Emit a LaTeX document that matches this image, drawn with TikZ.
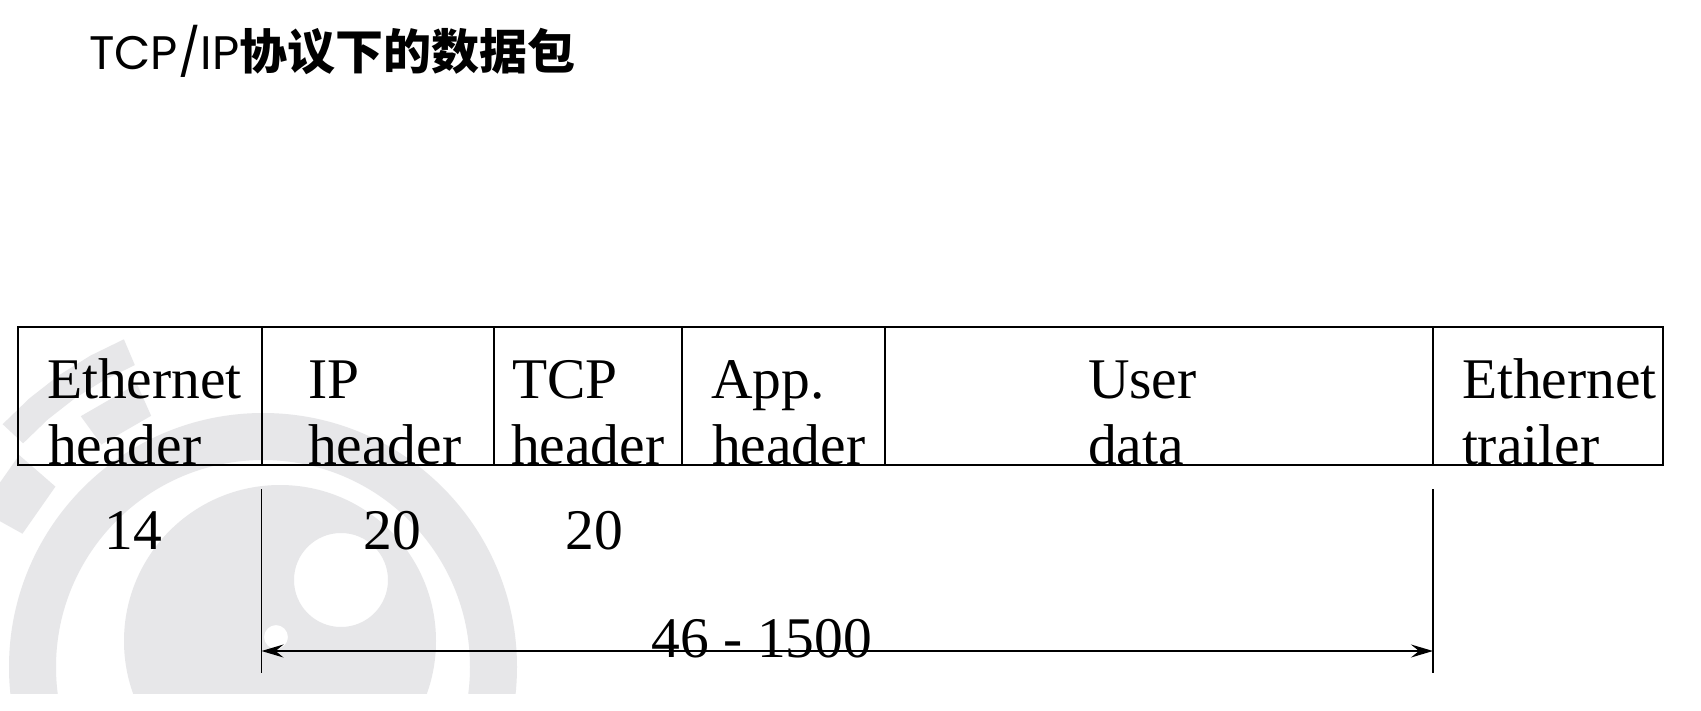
\documentclass[tikz,border=0pt]{standalone}
\usepackage{fontspec}
\setmainfont{Liberation Serif}
\newfontfamily\titlefont{Poppins}
\newfontfamily\cjkfont{Noto Sans CJK SC}
\usetikzlibrary{arrows.meta}
\definecolor{wmgray}{RGB}{231,231,233}
\begin{document}
\begin{tikzpicture}[x=1pt,y=-1pt,
  cell/.style={anchor=base west, inner sep=0pt, outer sep=0pt, font=\fontsize{57.5}{66}\selectfont},
  num/.style={anchor=base, inner sep=0pt, outer sep=0pt, font=\fontsize{57.5}{66}\selectfont},
  frame/.style={line width=2.6pt},
  divider/.style={line width=2pt},
  dimline/.style={line width=1.6pt},
  dimarrow/.style={line width=2pt, {Stealth[length=22pt,width=13pt,inset=8pt]}-{Stealth[length=22pt,width=13pt,inset=8pt]}},
  wm/.style={fill=wmgray, draw=none}
]
\fill[white] (0,0) rectangle (1701,710);
\useasboundingbox (0,0) rectangle (1701,710);

% watermark
\begin{scope}
\clip (0,0) rectangle (1701,693);
\fill[wm, even odd rule] (263,667) circle (254pt) (263,667) circle (207pt);
\fill[wm, even odd rule] (280,641) circle (156pt) (341,580) circle (47pt) (276,637) circle (12pt);
\begin{scope}[shift={(263,667)}]
\fill[wm] (-113:328) -- (-113:356) -- (-119:356) -- (-125:356) -- (-131:356) -- (-137:356)
  -- (-137:328) -- (-131:328) -- (-125:328) -- (-119:328) -- cycle;
\fill[wm] (-114:275) -- (-114:310) -- (-126:310) -- (-126:275) -- cycle;
\fill[wm] (-139:275) -- (-139:323) -- (-151:323) -- (-151:275) -- cycle;
\end{scope}
\end{scope}

% title
\node[anchor=base west, inner sep=0pt] (title) at (89,69)
  {\titlefont\fontsize{47}{50}\selectfont TCP/IP{\cjkfont\bfseries\fontsize{48}{50}\selectfont 协议下的数据包}};

% cell texts
\node[cell] (eth1) at (47,398) {Ethernet};
\node[cell] (eth2) at (48,464) {header};
\node[cell] (ip1) at (308,398) {IP};
\node[cell] (ip2) at (308,464) {header};
\node[cell] (tcp1) at (512,398) {TCP};
\node[cell] (tcp2) at (511,464) {header};
\node[cell] (app1) at (711,398) {App.};
\node[cell] (app2) at (712,464) {header};
\node[cell] (usr1) at (1088,398) {User};
\node[cell] (usr2) at (1088,464) {data};
\node[cell] (tr1) at (1462,398) {Ethernet};
\node[cell] (tr2) at (1462,464) {trailer};

% frame
\coordinate (tl) at (18,327);
\coordinate (br) at (1663,465);
\draw[frame] (tl) rectangle (br);
\foreach \x/\n in {261.5/a,494/b,682/c,884.5/d,1433/e}{
  \coordinate (top\n) at (\x,327);
  \coordinate (bot\n) at (\x,465);
  \draw[divider] (top\n) -- (bot\n);
}

% sizes
\node[num] (n14) at (133,549) {14};
\node[num] (n20a) at (392,549) {20};
\node[num] (n20b) at (594,549) {20};

\coordinate (lt) at (261.5,489);
\coordinate (lb) at (261.5,673);
\coordinate (rt) at (1433,489);
\coordinate (rb) at (1433,673);
\draw[dimline] (lt) -- (lb);
\draw[dimline] (rt) -- (rb);
\coordinate (la) at (261.5,651);
\coordinate (ra) at (1433,651);
\draw[dimarrow] (la) -- (ra);
\node[num] (range) at (762,657) {46 - 1500};
\end{tikzpicture}
\end{document}
